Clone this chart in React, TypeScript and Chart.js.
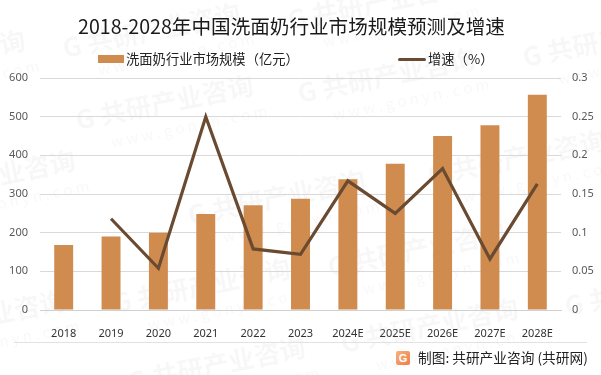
import React, { useEffect, useRef } from "react";
import { Chart, registerables } from "chart.js";

Chart.register(...registerables);

const TITLE = "2018-2028年中国洗面奶行业市场规模预测及增速";
const categories = ["2018", "2019", "2020", "2021", "2022", "2023", "2024E", "2025E", "2026E", "2027E", "2028E"];
const marketSize = [168, 190, 200, 248, 271, 288, 338, 378, 450, 478, 557];
const growth = [null, 0.118, 0.054, 0.25, 0.079, 0.072, 0.167, 0.125, 0.183, 0.066, 0.163];
const barLabel = "洗面奶行业市场规模（亿元）";
const lineLabel = "增速（%）";
const footerText = "制图: 共研产业咨询 (共研网)";
const marks = [
  [65, 58], [78, 130], [300, 103], [525, 67], [290, 30], [-150, 85], [-100, 205],
  [190, 225], [430, 185], [115, 313], [343, 353], [130, 392], [330, 277], [567, 316], [-110, 345]
];

const FONT = '"Noto Sans CJK SC", "Noto Sans", sans-serif';

const watermark = {
  id: "watermark",
  afterLayout(chart: any) {
    chart.scales.y1.right = 601;
  },
  beforeDraw(chart: any) {
    const { ctx } = chart;
    ctx.save();
    for (const [x, y] of marks) {
      ctx.save();
      ctx.translate(x, y);
      ctx.rotate(-0.2);
      ctx.fillStyle = "rgba(0,0,0,0.032)";
      ctx.font = `bold 26px ${FONT}`;
      ctx.fillText("G 共研产业咨询", 0, 0);
      ctx.font = `15px ${FONT}`;
      ctx.fillText("w w w . g o n y n . c o m", 30, 24);
      ctx.restore();
    }
    ctx.restore();
  }
};

export default function App() {
  const ref = useRef<HTMLCanvasElement>(null);
  useEffect(() => {
    document.body.style.margin = "0";
    const chart = new Chart(ref.current!, {
      type: "bar",
      plugins: [watermark],
      data: {
        labels: categories,
        datasets: [
          {
            type: "line",
            label: lineLabel,
            data: growth,
            yAxisID: "y1",
            borderColor: "#6A4A30",
            borderWidth: 3.2,
            pointRadius: 0,
            tension: 0,
            order: 1,
            spanGaps: false
          },
          {
            type: "bar",
            label: barLabel,
            data: marketSize,
            yAxisID: "y",
            backgroundColor: "#D08C4F",
            categoryPercentage: 1,
            barPercentage: 0.4,
            order: 2
          }
        ] as any
      },
      options: {
        animation: false,
        responsive: false,
        layout: { padding: { left: 0, right: 18, top: 0, bottom: 0 } },
        plugins: {
          legend: { display: false },
          tooltip: { enabled: false },
          title: {
            display: true,
            text: TITLE,
            color: "#1a1a1a",
            font: { family: FONT, size: 19.6, weight: "normal" },
            padding: { top: 15, bottom: 39.5 }
          }
        },
        scales: {
          x: {
            grid: { display: false },
            border: { color: "#d0d0d0", width: 1 },
            ticks: { color: "#333", font: { family: '"Noto Sans", sans-serif', size: 11 }, padding: 9, maxRotation: 0, autoSkip: false },
            afterFit: (s: any) => { s.height = 65; }
          },
          y: {
            position: "left",
            min: 0,
            max: 600,
            grid: { color: "#d9d9d9", drawTicks: false },
            border: { display: false },
            ticks: { stepSize: 100, color: "#595959", padding: 12, font: { family: '"Noto Sans", sans-serif', size: 11 } },
            afterFit: (s: any) => { s.width = 40; }
          },
          y1: {
            position: "right",
            min: 0,
            max: 0.3,
            grid: { display: false, drawTicks: false },
            border: { display: false },
            ticks: {
              stepSize: 0.05,
              color: "#595959",
              padding: 11,
              font: { family: '"Noto Sans", sans-serif', size: 11 },
              callback: (v: any) => String(+Number(v).toFixed(2))
            },
            afterFit: (s: any) => { s.width = 22; }
          }
        }
      } as any
    });
    return () => chart.destroy();
  }, []);

  const text: React.CSSProperties = { position: "absolute", fontFamily: FONT, fontSize: 13.3, color: "#222", whiteSpace: "nowrap", lineHeight: "16px" };
  return (
    <div style={{ position: "relative", width: 601, height: 375, overflow: "hidden", background: "#fff" }}>
      <canvas ref={ref} width={601} height={375} style={{ display: "block" }} />
      <div style={{ position: "absolute", left: 98, top: 55, width: 26, height: 8, background: "#D08C4F" }} />
      <div style={{ ...text, left: 126, top: 51 }}>{barLabel}</div>
      <div style={{ position: "absolute", left: 398, top: 57.5, width: 28, height: 3, borderRadius: 2, background: "#6A4A30" }} />
      <div style={{ ...text, left: 428, top: 51 }}>{lineLabel}</div>
      <div style={{ position: "absolute", left: 14, top: 342, width: 573, height: 1, background: "#e2e2e2" }} />
      <div style={{ position: "absolute", left: 396, top: 351, width: 14, height: 14, borderRadius: 2, background: "linear-gradient(135deg,#f7b27a,#ef7d4a)", color: "#fff", fontSize: 11, fontWeight: 700, lineHeight: "14px", textAlign: "center", fontFamily: "Liberation Sans" }}>G</div>
      <div style={{ ...text, fontSize: 13.7, left: 418, top: 349 }}>{footerText}</div>
    </div>
  );
}
